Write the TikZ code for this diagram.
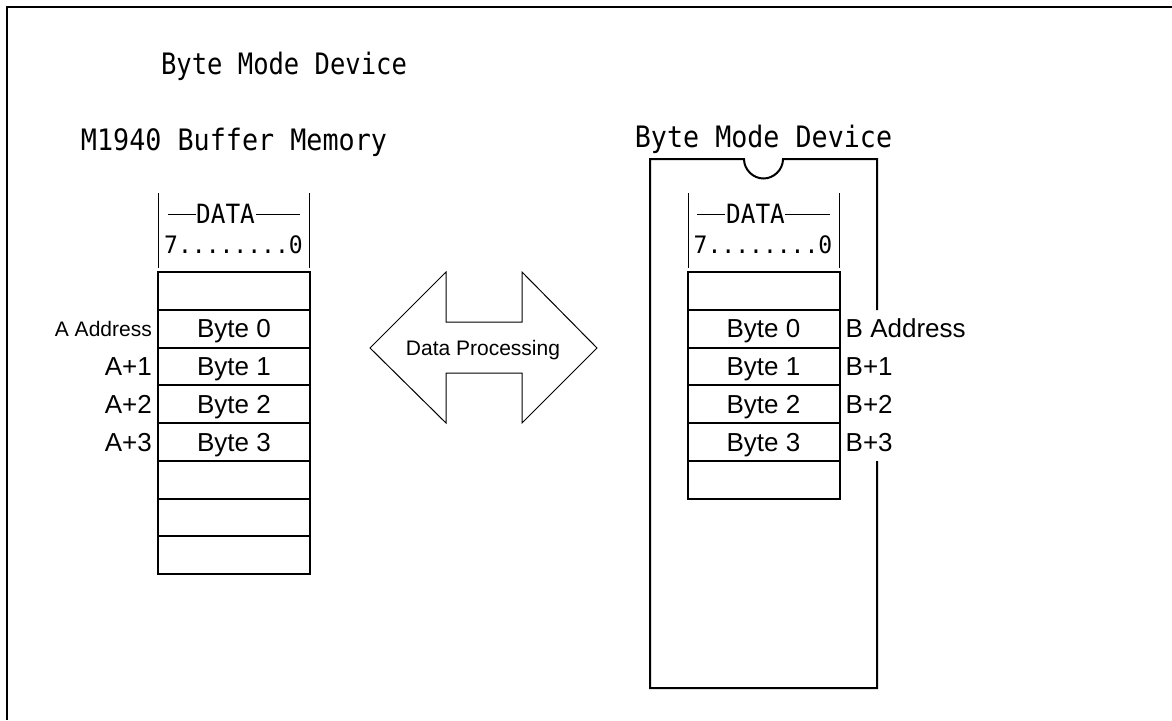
\documentclass[tikz,border=0pt]{standalone}
\usepackage{fontspec}
\setmainfont{Liberation Sans}
\newfontfamily\monof{DejaVu Sans Mono}
\begin{document}
\begin{tikzpicture}[x=1pt,y=-1pt,
  cell/.style={draw, line width=2pt, minimum width=152pt, minimum height=37.75pt,
    inner sep=0pt, outer sep=0pt, font=\fontsize{26}{30}\selectfont,
    text height=18.7pt, text depth=0pt},
  biglab/.style={inner sep=0pt, font=\fontsize{26}{30}\selectfont, text height=18.7pt, text depth=0pt},
  smalllab/.style={inner sep=0pt, font=\fontsize{21}{25}\selectfont, text height=15pt, text depth=0pt},
  titletext/.style={inner sep=0pt, anchor=base, font=\monof\fontsize{29.5}{33}\selectfont},
  datatext/.style={inner sep=0pt, anchor=base, font=\monof\fontsize{26.5}{30}\selectfont},
  bittext/.style={inner sep=0pt, anchor=base, font=\monof\fontsize{24}{28}\selectfont},
  thin/.style={line width=1pt},
  thick/.style={line width=2pt}]
\useasboundingbox (0,0) rectangle (1172,720);
% outer frame (left and top)
\draw[thick] (7,720) -- (7,7) -- (1172,7);

% titles
\node[titletext] (title) at (284,74) {\scalebox{0.865}[1]{Byte Mode Device}};
\node[titletext] (mtitle) at (234,150) {\scalebox{0.907}[1]{M1940 Buffer Memory}};
\node[titletext] (btitle) at (763.5,147) {\scalebox{0.905}[1]{Byte Mode Device}};

% left header
\draw[thin] (158,193) -- (158,268);
\draw[thin] (309,193) -- (309,268);
\node[datatext] (ldata) at (225.5,223) {\scalebox{0.92}[1]{DATA}};
\draw[thin] (168,214) -- (196,214);
\draw[thin] (256,214) -- (300,214);
\node[bittext] (lbits) at (233.5,253) {\scalebox{0.96}[1]{7........0}};

% left table
\foreach \i/\t in {0/,1/Byte 0,2/Byte 1,3/Byte 2,4/Byte 3,5/,6/,7/} {
  \node[cell] (L\i) at (234,{290.875+37.75*\i}) {\t};
}
\node[smalllab, anchor=east, xshift=-6pt] (la0) at (L1.west) {A Address};
\node[biglab, anchor=east, xshift=-6pt] (la1) at (L2.west) {A+1};
\node[biglab, anchor=east, xshift=-6pt] (la2) at (L3.west) {A+2};
\node[biglab, anchor=east, xshift=-6pt] (la3) at (L4.west) {A+3};

% double arrow
\draw[thin] (370,348) -- (446,272) -- (446,322) -- (522,322) -- (522,272) -- (597,348)
  -- (522,423) -- (522,373) -- (446,373) -- (446,423) -- cycle;
\node[smalllab] (dp) at (483,348) {Data Processing};

% chip outline
\draw[thick] (877,310) -- (877,159) -- (783,159)
  .. controls (783,169.77) and (773.77,178.5) .. (763.5,178.5)
  .. controls (753.23,178.5) and (744,169.77) .. (744,159)
  -- (650,159) -- (650,688) -- (877,688) -- (877,461);

% right header
\draw[thin] (688,193) -- (688,268);
\draw[thin] (839,193) -- (839,268);
\node[datatext] (rdata) at (755.5,223) {\scalebox{0.92}[1]{DATA}};
\draw[thin] (697,214) -- (725,214);
\draw[thin] (785,214) -- (830,214);
\node[bittext] (rbits) at (763,253) {\scalebox{0.96}[1]{7........0}};

% right table
\foreach \i/\t in {0/,1/Byte 0,2/Byte 1,3/Byte 2,4/Byte 3,5/} {
  \node[cell] (R\i) at (763.5,{290.875+37.75*\i}) {\t};
}
\node[biglab, anchor=west, xshift=6pt] (rb0) at (R1.east) {B Address};
\node[biglab, anchor=west, xshift=6pt] (rb1) at (R2.east) {B+1};
\node[biglab, anchor=west, xshift=6pt] (rb2) at (R3.east) {B+2};
\node[biglab, anchor=west, xshift=6pt] (rb3) at (R4.east) {B+3};
\end{tikzpicture}
\end{document}
